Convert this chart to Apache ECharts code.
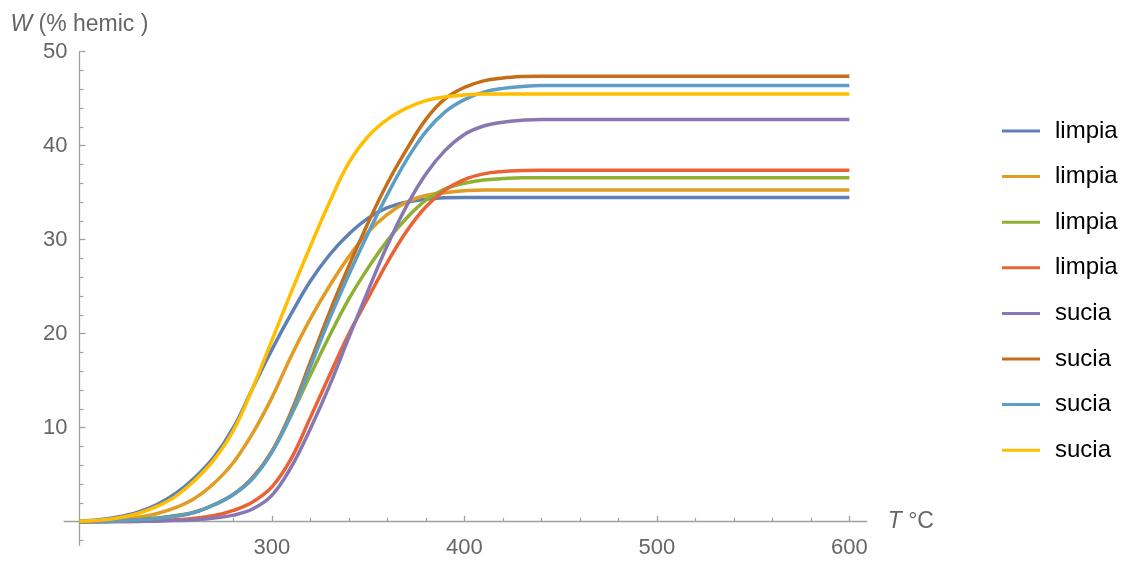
<!DOCTYPE html>
<html>
<head>
<meta charset="utf-8">
<script src="https://cdn.jsdelivr.net/npm/echarts@6/dist/echarts.min.js"></script>
<style>
  html, body { margin: 0; padding: 0; background: #fff; }
  #chart { width: 1131px; height: 563px; }
</style>
</head>
<body>
<div id="chart"></div>
<script>
// temperature grid (°C) the curves were read at
const temps = [200, 210, 220, 230, 240, 250, 260, 270, 280, 290, 300, 310, 320, 330, 340,
  350, 360, 370, 380, 390, 400, 410, 420, 430, 440, 450, 460, 500, 550, 600];

// W (% hemic) per curve
const limpia1 = [0.05, 0.2, 0.5, 1.0, 1.8, 3.0, 4.7, 6.9, 10.0, 14.2, 18.3, 22.1, 25.6, 28.4, 30.6,
  32.3, 33.4, 34.0, 34.3, 34.45, 34.5, 34.5, 34.5, 34.5, 34.5, 34.5, 34.5, 34.5, 34.5, 34.5];
const limpia2 = [0.02, 0.08, 0.2, 0.45, 0.85, 1.5, 2.5, 4.1, 6.3, 9.4, 13.2, 17.6, 21.6, 25.1, 28.2,
  30.8, 32.7, 34.0, 34.7, 35.0, 35.2, 35.3, 35.3, 35.3, 35.3, 35.3, 35.3, 35.3, 35.3, 35.3];
const limpia3 = [0, 0.02, 0.08, 0.2, 0.4, 0.65, 1.05, 1.8, 2.9, 4.6, 7.4, 11.3, 15.6, 19.8, 23.7,
  27.0, 29.9, 32.3, 34.2, 35.4, 36.0, 36.35, 36.5, 36.6, 36.6, 36.6, 36.6, 36.6, 36.6, 36.6];
const limpia4 = [0, 0.01, 0.02, 0.05, 0.1, 0.2, 0.38, 0.65, 1.2, 2.1, 3.7, 6.7, 11.1, 15.6, 20.0,
  23.8, 27.6, 30.9, 33.5, 35.3, 36.4, 37.0, 37.25, 37.35, 37.4, 37.4, 37.4, 37.4, 37.4, 37.4];
const sucia1 = [0, 0, 0.01, 0.03, 0.06, 0.12, 0.22, 0.4, 0.7, 1.35, 2.8, 5.8, 9.9, 14.5, 19.6,
  24.6, 29.4, 33.6, 37.0, 39.5, 41.2, 42.1, 42.5, 42.7, 42.8, 42.8, 42.8, 42.8, 42.8, 42.8];
const sucia2 = [0, 0.02, 0.07, 0.18, 0.35, 0.6, 1.0, 1.8, 2.9, 4.7, 7.5, 11.7, 17.0, 22.3, 27.2,
  31.8, 36.0, 39.6, 42.8, 45.0, 46.2, 46.9, 47.2, 47.35, 47.4, 47.4, 47.4, 47.4, 47.4, 47.4];
const sucia3 = [0, 0.02, 0.07, 0.18, 0.35, 0.6, 1.0, 1.8, 2.9, 4.6, 7.4, 11.4, 16.5, 21.6, 26.3,
  30.7, 34.8, 38.5, 41.5, 43.6, 44.9, 45.7, 46.1, 46.3, 46.4, 46.4, 46.4, 46.4, 46.4, 46.4];
const sucia4 = [0.05, 0.15, 0.4, 0.85, 1.6, 2.7, 4.4, 6.6, 9.7, 14.2, 19.3, 24.4, 29.3, 34.0, 38.2,
  41.0, 42.8, 44.0, 44.8, 45.2, 45.4, 45.5, 45.5, 45.5, 45.5, 45.5, 45.5, 45.5, 45.5, 45.5];

const curves = [limpia1, limpia2, limpia3, limpia4, sucia1, sucia2, sucia3, sucia4];
// legend labels repeat, so each series gets a '#n' suffix that the legend hides
const curveNames = ['limpia#1', 'limpia#2', 'limpia#3', 'limpia#4', 'sucia#1', 'sucia#2', 'sucia#3', 'sucia#4'];
const curveColors = ['#5e81b5', '#e19c24', '#8fb032', '#eb6235', '#8778b3', '#c56e1a', '#5d9ec7', '#ffbf00'];

const xMajorTicks = [300, 400, 500, 600];
const xMinorTicks = [220, 240, 260, 280, 320, 340, 360, 380, 420, 440, 460, 480, 520, 540, 560, 580];
const yMajorTicks = [10, 20, 30, 40, 50];
const yMinorTicks = [-2, 2, 4, 6, 8, 12, 14, 16, 18, 22, 24, 26, 28, 32, 34, 36, 38, 42, 44, 46, 48];

const FONT = '"Liberation Sans", Arial, sans-serif';
const axisGray = '#a0a0a0';
const labelGray = '#666666';

const chart = echarts.init(document.getElementById('chart'));

// y axis sits at T = 200, inside the grid, which starts a little to the left
const yShift = -15.4;

const xBase = {
    type: 'value',
    min: 192,
    max: 609,
    position: 'bottom',
    splitLine: { show: false },
};
const yBase = {
    type: 'value',
    min: -2.5,
    max: 50,
    position: 'left',
    offset: yShift,
    splitLine: { show: false },
};

const option = {
    animation: false,
    grid: {
        left: 64,
        right: 264.3,
        top: 51.7,
        bottom: 17.8,
        containLabel: false,
        outerBoundsMode: 'none',
    },
    legend: {
        orient: 'vertical',
        left: 1002,
        top: 119,
        padding: 0,
        itemWidth: 38,
        itemHeight: 3,
        itemGap: 21.6,
        icon: 'rect',
        data: curveNames,
        formatter: (name) => name.split('#')[0],
        textStyle: {
            fontFamily: FONT,
            fontSize: 24,
            color: '#000',
            lineHeight: 24,
            padding: [0, 0, 0, 10],
        },
    },
    xAxis: [
        {
            ...xBase,
            axisLine: { show: true, onZero: true, onZeroAxisIndex: 0, lineStyle: { color: axisGray, width: 1.3 } },
            axisTick: { show: true, inside: true, length: 6, customValues: xMajorTicks, lineStyle: { color: axisGray, width: 1.3 } },
            axisLabel: { customValues: xMajorTicks, color: labelGray, fontSize: 22, fontFamily: FONT, margin: -8 },
            name: '{i|T} °C',
            nameLocation: 'end',
            nameGap: 21,
            nameTextStyle: {
                color: labelGray,
                fontSize: 23,
                fontFamily: FONT,
                rich: { i: { fontStyle: 'italic', color: labelGray, fontSize: 23, fontFamily: FONT } },
            },
        },
        {
            ...xBase,
            axisLine: { show: false, onZero: true, onZeroAxisIndex: 1 },
            axisTick: { show: true, inside: true, length: 4, customValues: xMinorTicks, lineStyle: { color: axisGray, width: 1.2 } },
            axisLabel: { show: false },
        },
    ],
    yAxis: [
        {
            ...yBase,
            axisLine: { show: true, onZero: false, lineStyle: { color: axisGray, width: 1.3 } },
            axisTick: { show: true, inside: true, length: 6, customValues: yMajorTicks, lineStyle: { color: axisGray, width: 1.3 } },
            axisLabel: { customValues: yMajorTicks, color: labelGray, fontSize: 22, fontFamily: FONT, margin: 12 },
            name: '{i|W} (% hemic )',
            nameLocation: 'end',
            nameGap: 16,
            nameTextStyle: {
                color: labelGray,
                fontSize: 23,
                fontFamily: FONT,
                align: 'center',
                rich: { i: { fontStyle: 'italic', color: labelGray, fontSize: 23, fontFamily: FONT } },
            },
        },
        {
            ...yBase,
            axisLine: { show: false, onZero: false },
            axisTick: { show: true, inside: true, length: 4, customValues: yMinorTicks, lineStyle: { color: axisGray, width: 1.2 } },
            axisLabel: { show: false },
        },
    ],
    series: curves.map((vals, i) => ({
        type: 'line',
        name: curveNames[i],
        xAxisIndex: 0,
        yAxisIndex: 0,
        data: temps.map((t, j) => [t, vals[j]]),
        showSymbol: false,
        smooth: 0.4,
        color: curveColors[i],
        lineStyle: { width: 3.5, color: curveColors[i] },
        emphasis: { disabled: true },
    })),
};

chart.setOption(option);
</script>
</body>
</html>
